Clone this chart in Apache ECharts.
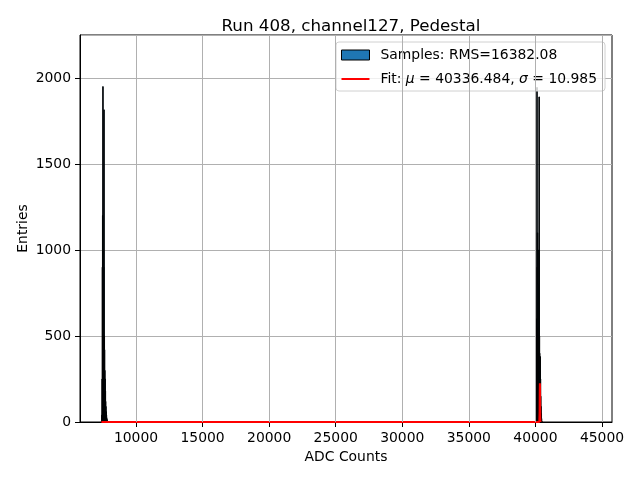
<!DOCTYPE html>
<html>
<head>
<meta charset="utf-8">
<script src="https://cdn.jsdelivr.net/npm/echarts@6/dist/echarts.min.js"></script>
<style>
  html, body { margin: 0; padding: 0; background: #fff; }
  #chart { width: 640px; height: 480px; }
</style>
</head>
<body>
<div id="chart"></div>
<script>
// histogram bins (left edge), width BIN_W
const BIN_W = 20;
const lowBins = [7400, 7420, 7440, 7460, 7480, 7500, 7520, 7540, 7560, 7580, 7600, 7620,
  7640, 7660, 7680, 7700, 7720, 7740, 7760, 7780, 7800, 7820, 7840];
const lowCounts = [5, 40, 250, 900, 1200, 1950, 650, 1000, 900, 1815, 500, 420,
  300, 250, 180, 120, 90, 60, 40, 25, 15, 8, 3];
const highBins = [40040, 40060, 40080, 40100, 40120, 40140, 40160, 40180, 40200, 40220, 40240,
  40260, 40280, 40300, 40320, 40340, 40360, 40380, 40400, 40420, 40440, 40460];
const highCounts = [10, 120, 600, 1945, 900, 1100, 700, 800, 550, 650, 1000,
  1890, 500, 400, 300, 380, 250, 150, 90, 50, 20, 5];

// gaussian fit curve
const fitX = [7400, 40290, 40305, 40315, 40325, 40335, 40345, 40355, 40365, 40380];
const fitY = [0, 0, 10, 60, 180, 225, 200, 90, 15, 0];

const xTicks = [10000, 15000, 20000, 25000, 30000, 35000, 40000, 45000];

const FONT = 'DejaVu Sans';

const histData = [];
lowBins.forEach((b, i) => histData.push([b, b + BIN_W, lowCounts[i]]));
highBins.forEach((b, i) => histData.push([b, b + BIN_W, highCounts[i]]));

const chart = echarts.init(document.getElementById('chart'));

chart.setOption({
  animation: false,
  title: {
    text: 'Run 408, channel127, Pedestal',
    left: 346,
    textAlign: 'center',
    top: 13,
    textStyle: { fontFamily: FONT, fontSize: 16.7, fontWeight: 'normal', color: '#000' }
  },
  grid: {
    left: 80, right: 28, top: 35, bottom: 58,
    show: true, borderColor: '#000', borderWidth: 1, backgroundColor: 'transparent'
  },
  legend: {
    orient: 'vertical',
    right: 35,
    top: 42,
    padding: [6, 8, 5, 5],
    itemGap: 10,
    itemWidth: 28,
    itemHeight: 10,
    borderColor: '#d0d0d0',
    borderWidth: 1,
    borderRadius: 3,
    backgroundColor: 'rgba(255,255,255,0.8)',
    textStyle: {
      fontFamily: FONT, fontSize: 13.9, color: '#000', padding: [0, 0, 0, 6],
      rich: {
        n: { fontFamily: FONT, fontSize: 13.9, color: '#000' },
        i: { fontFamily: FONT, fontSize: 13.9, color: '#000', fontStyle: 'italic' }
      }
    },
    formatter: function (name) {
      if (name === 'fit') {
        return '{n|Fit: }{i|μ}{n| = 40336.484, }{i|σ}{n| = 10.985}';
      }
      return 'Samples: RMS=16382.08';
    },
    data: [
      { name: 'samples', icon: 'rect', itemStyle: { color: '#1f77b4', borderColor: '#000', borderWidth: 1 } },
      { name: 'fit', icon: 'path://M0,0 L28,0 L28,2 L0,2 Z', itemStyle: { color: '#ff0000', borderWidth: 0 } }
    ]
  },
  xAxis: {
    type: 'value',
    min: 5794,
    max: 45751,
    name: 'ADC Counts',
    nameLocation: 'middle',
    nameGap: 28,
    nameTextStyle: { fontFamily: FONT, fontSize: 13.9, color: '#000' },
    axisLine: { show: true, lineStyle: { color: '#000' } },
    axisTick: { show: true, inside: false, length: 5, customValues: xTicks, lineStyle: { color: '#000' } },
    axisLabel: {
      customValues: xTicks, margin: 9, fontFamily: FONT, fontSize: 13.9, color: '#000',
      formatter: v => String(v)
    },
    splitLine: { show: false }
  },
  yAxis: {
    type: 'value',
    min: 0,
    max: 2250,
    interval: 500,
    name: 'Entries',
    nameLocation: 'middle',
    nameRotate: 90,
    nameGap: 50,
    nameMoveOverlap: false,
    nameTextStyle: { fontFamily: FONT, fontSize: 13.9, color: '#000' },
    axisLine: { show: true, lineStyle: { color: '#000' } },
    axisTick: { show: true, length: 5, lineStyle: { color: '#000' } },
    axisLabel: {
      margin: 9, fontFamily: FONT, fontSize: 13.9, color: '#000',
      showMaxLabel: false,
      formatter: v => String(v)
    },
    splitLine: { show: true, lineStyle: { color: '#b0b0b0', width: 1 } }
  },
  series: [
    {
      name: 'grid-x',
      type: 'line',
      data: [],
      silent: true,
      markLine: {
        symbol: 'none',
        silent: true,
        label: { show: false },
        lineStyle: { color: '#b0b0b0', width: 1, type: 'solid' },
        data: xTicks.map(v => ({ xAxis: v }))
      }
    },
    {
      name: 'samples',
      type: 'custom',
      data: histData,
      encode: { x: [0, 1], y: 2 },
      renderItem: function (params, api) {
        const p0 = api.coord([api.value(0), api.value(2)]);
        const p1 = api.coord([api.value(1), 0]);
        return {
          type: 'rect',
          shape: { x: p0[0], y: p0[1], width: Math.max(p1[0] - p0[0], 0.5), height: p1[1] - p0[1] },
          style: { fill: '#1f77b4', stroke: '#000', lineWidth: 1 }
        };
      },
      itemStyle: { color: '#1f77b4' },
      z: 3
    },
    {
      name: 'fit',
      type: 'line',
      data: fitX.map((x, i) => [x, fitY[i]]),
      showSymbol: false,
      symbol: 'none',
      lineStyle: { color: '#ff0000', width: 2 },
      itemStyle: { color: '#ff0000' },
      z: 4
    }
  ]
});
</script>
</body>
</html>
